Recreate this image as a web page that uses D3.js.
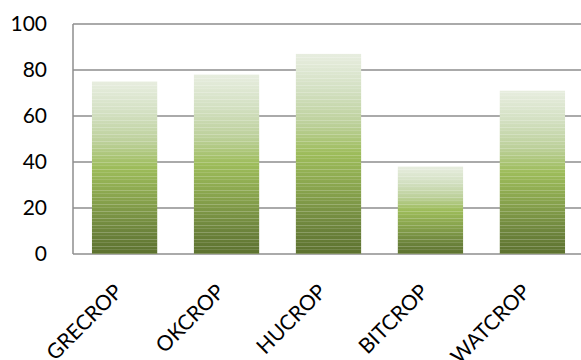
<!DOCTYPE html>
<html>
<head>
<meta charset="utf-8">
<script src="https://cdn.jsdelivr.net/npm/d3@7"></script>
<style>
  html, body { margin: 0; padding: 0; background: #fff; }
  svg { display: block; }
  text { font-family: Lato, "Open Sans", sans-serif; fill: #000; }
</style>
</head>
<body>
<svg id="chart" width="581" height="360"></svg>
<script>
// Crop figures per category
const categories = ["GRECROP", "OKCROP", "HUCROP", "BITCROP", "WATCROP"];
const values = [75, 78, 87, 38, 71];
const yTicks = [0, 20, 40, 60, 80, 100];

const width = 581, height = 360;
const margin = { top: 24, right: -3, bottom: 106, left: 73 };

const svg = d3.select("#chart");
const defs = svg.append("defs");

// Vertical fade: pale at the top, green in the middle, olive at the base
const grad = defs.append("linearGradient")
  .attr("id", "barFill")
  .attr("x1", 0).attr("y1", 0).attr("x2", 0).attr("y2", 1);
[
  [0.00, "#e7eddf"],
  [0.18, "#d3e0c2"],
  [0.35, "#bcd09a"],
  [0.50, "#9dbc5a"],
  [0.70, "#85a04b"],
  [0.88, "#6b823b"],
  [1.00, "#5d722f"]
].forEach(([o, c]) => grad.append("stop").attr("offset", o).attr("stop-color", c));

// Fine horizontal banding over the fade
const pat = defs.append("pattern")
  .attr("id", "bands")
  .attr("patternUnits", "userSpaceOnUse")
  .attr("width", 10).attr("height", 7);
pat.append("rect").attr("x", 0).attr("y", 1).attr("width", 10).attr("height", 1)
  .attr("fill", "#ffffff").attr("opacity", 0.22);
pat.append("rect").attr("x", 0).attr("y", 4).attr("width", 10).attr("height", 1)
  .attr("fill", "#ffffff").attr("opacity", 0.12);

const x = d3.scaleBand()
  .domain(categories)
  .range([margin.left, width - margin.right])
  .paddingInner(0.36)
  .paddingOuter(0.186);

const y = d3.scaleLinear()
  .domain([0, 100])
  .range([height - margin.bottom, margin.top]);

// Gridlines
svg.append("g")
  .selectAll("line")
  .data(yTicks)
  .join("line")
  .attr("x1", margin.left)
  .attr("x2", width)
  .attr("y1", d => y(d))
  .attr("y2", d => y(d))
  .attr("stroke", "#8e8e8e")
  .attr("stroke-width", 1.5);

// Left axis line
svg.append("line")
  .attr("x1", margin.left).attr("x2", margin.left)
  .attr("y1", y(100)).attr("y2", y(0))
  .attr("stroke", "#8e8e8e")
  .attr("stroke-width", 1.5);

// Bars
const bars = svg.append("g");
bars.selectAll("rect.bar")
  .data(values)
  .join("rect")
  .attr("class", "bar")
  .attr("x", (d, i) => x(categories[i]))
  .attr("width", x.bandwidth())
  .attr("y", d => y(d))
  .attr("height", d => y(0) - y(d))
  .attr("fill", "url(#barFill)");
bars.selectAll("rect.band")
  .data(values)
  .join("rect")
  .attr("class", "band")
  .attr("x", (d, i) => x(categories[i]))
  .attr("width", x.bandwidth())
  .attr("y", d => y(d))
  .attr("height", d => y(0) - y(d))
  .attr("fill", "url(#bands)");

// Y tick labels
svg.append("g")
  .selectAll("text")
  .data(yTicks)
  .join("text")
  .attr("x", 47)
  .attr("y", d => y(d))
  .attr("dy", "0.35em")
  .attr("text-anchor", "end")
  .attr("font-size", 21)
  .text(d => d);

// Category labels, rotated
svg.append("g")
  .selectAll("text")
  .data(categories)
  .join("text")
  .attr("text-anchor", "end")
  .attr("font-size", 21)
  .attr("transform", d => `translate(${x(d) + x.bandwidth() / 2 - 1},${y(0) + 39}) rotate(-45)`)
  .text(d => d);
</script>
</body>
</html>
